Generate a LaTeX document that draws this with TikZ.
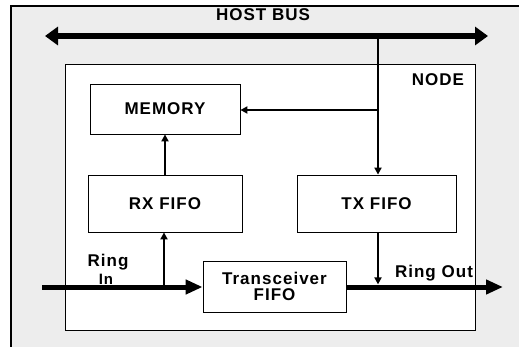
\documentclass[tikz,border=0pt]{standalone}
\usepackage{fontspec}
\newfontfamily\labfont[LetterSpace=6]{Liberation Sans}
\usetikzlibrary{arrows.meta}

\tikzset{
  blk/.style={draw=black, thick, fill=white, rectangle, align=center, inner sep=0pt},
  lbl/.style={font=\labfont\bfseries\fontsize{17}{17}\selectfont, align=center},
  bus/.style={line width=6.5pt, {Triangle[length=13pt,width=18pt]}-{Triangle[length=13pt,width=18pt]}},
  ring/.style={line width=5pt, -{Triangle[length=17pt,width=14pt]}},
  sig/.style={line width=2pt, -{Triangle[length=7pt,width=7pt]}}
}

\begin{document}
\begin{tikzpicture}[x=1pt,y=-1pt]
\useasboundingbox (0,0) rectangle (519,347);
% scanned page background
\fill[gray!14] (11,6) rectangle (519,347);
\draw[line width=1.6pt] (11,347) -- (11,6) -- (519,6);

% node frame
\draw[thick, fill=white] (65,64) rectangle (475,330);
\node[lbl] (nodelbl) at (438,80) {NODE};

% blocks
\node[blk, minimum width=150pt, minimum height=50pt, lbl] (mem) at (165,109) {MEMORY};
\node[blk, minimum width=154pt, minimum height=57pt, lbl] (rx) at (165,203.5) {RX FIFO};
\node[blk, minimum width=159pt, minimum height=57pt, lbl] (tx) at (376.5,203.5) {TX FIFO};
\node[blk, minimum width=143pt, minimum height=51pt, lbl] (trx) at (274.5,286.5) {Transceiver\\[-1pt]FIFO};

% host bus
\coordinate (busl) at (45,36);
\coordinate (busr) at (488,36);
\draw[bus] (busl) -- (busr);
\node[lbl] (buslbl) at (263,15) {HOST BUS};

% bus to TX FIFO and memory
\coordinate (tap) at (378,36);
\coordinate (split) at (378,110);
\draw[sig] (tap) -- (tx.north -| tap);
\draw[sig] (split) -- (mem.east |- split);
\draw[sig] (rx.north) -- (mem.south);

% ring in / ring out
\node[lbl, inner sep=1pt] (rinlbl) at (108,262) {Ring};
\node[inner sep=1pt, font=\labfont\bfseries\fontsize{15}{15}\selectfont] (inlbl) at (106,279) {In};
\coordinate (rin) at (42,287);
\coordinate (rout) at (503,287);
\coordinate (rxtap) at (164,287);
\draw[ring] (rin) -- (trx.west |- rin);
\draw[sig] (rxtap) -- (rx.south -| rxtap);
\draw[ring] (trx.east |- rout) -- (rout);
\draw[sig] (tx.south -| tap) -- ++(0,52);
\node[lbl] (routlbl) at (434,273) {Ring Out};
\end{tikzpicture}
\end{document}
